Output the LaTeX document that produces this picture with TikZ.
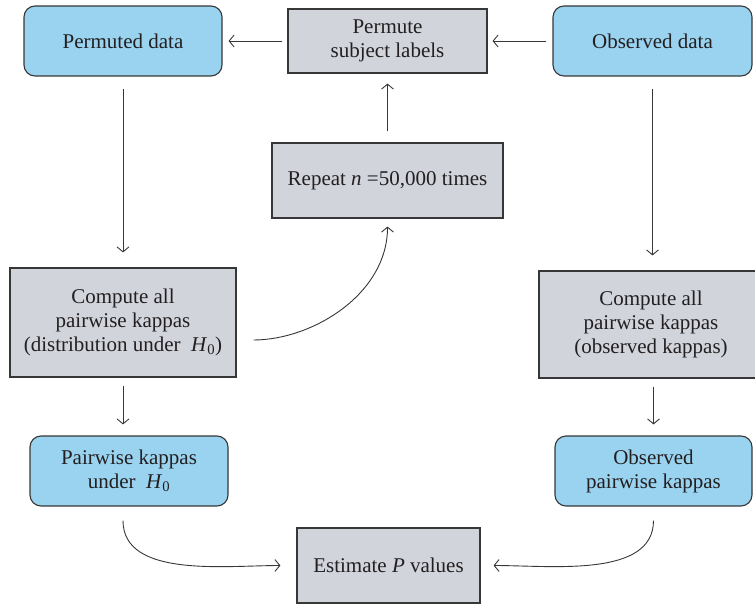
\documentclass[tikz,border=0pt]{standalone}
\usepackage{fontspec}
\setmainfont{Liberation Serif}
\usetikzlibrary{arrows.meta}
\definecolor{boxblue}{RGB}{154,211,240}
\definecolor{boxgray}{RGB}{209,212,219}
\definecolor{edge}{RGB}{55,55,55}
\definecolor{ink}{RGB}{35,31,32}
\tikzset{
  base/.style={draw=edge, line width=1.1pt, align=center, text=ink, inner sep=0pt,
    font=\fontsize{21}{24}\selectfont},
  bluebox/.style={base, fill=boxblue, rounded corners=11pt},
  graybox/.style={base, fill=boxgray},
  conn/.style={draw=edge, line width=0.9pt, -{Straight Barb[length=5pt,width=12pt]}}
}
\begin{document}
\begin{tikzpicture}[x=1pt,y=-1pt]
\useasboundingbox (0,0) rectangle (755,607);
\node[bluebox, minimum width=198pt, minimum height=70pt] (pd) at (123,41) {Permuted data};
\node[graybox, minimum width=199pt, minimum height=64pt] (psl) at (387.5,41) {Permute\\subject labels};
\node[bluebox, minimum width=199pt, minimum height=70pt] (od) at (652.5,41) {Observed data};
\node[graybox, minimum width=231pt, minimum height=75pt] (rep) at (387.5,180.5) {Repeat \textit{n} =50,000 times};
\node[graybox, minimum width=226pt, minimum height=109pt] (cl) at (123,322.5) {Compute all\\pairwise kappas\\(distribution under\ \ \textit{H}\textsubscript{0})};
\node[graybox, minimum width=224pt, minimum height=107pt] (cr) at (651,324.5) {Compute all\\pairwise kappas\\(observed kappas)};
\node[bluebox, minimum width=198pt, minimum height=70pt] (pk) at (129,471) {Pairwise kappas\\under\ \ \textit{H}\textsubscript{0}};
\node[bluebox, minimum width=197pt, minimum height=70pt] (opk) at (653.5,471) {Observed\\pairwise kappas};
\node[graybox, minimum width=183pt, minimum height=75pt] (est) at (388.5,565.5) {Estimate \textit{P} values};

\draw[conn, shorten <=6pt, shorten >=5pt] (od.west) -- (psl.east);
\draw[conn, shorten <=5pt, shorten >=6pt] (psl.west) -- (pd.east);
\draw[conn, shorten <=12pt, shorten >=15pt] (pd.south) -- (cl.north);
\draw[conn, shorten <=12pt, shorten >=15pt] (od.south) -- (od.south |- cr.north);
\draw[conn, shorten <=11pt, shorten >=10pt] (rep.north) -- (psl.south);
\draw[conn, shorten <=17pt, shorten >=8pt] ([yshift=-17.5pt]cl.east) to[out=0,in=-90] (rep.south);
\draw[conn, shorten <=8pt, shorten >=11pt] (cl.south) -- (cl.south |- pk.north);
\draw[conn, shorten <=8pt, shorten >=11pt] (cr.south -| opk.north) -- (opk.north);
\draw[conn, shorten <=14pt, shorten >=16pt] ([xshift=-6pt]pk.south) to[out=-90,in=180] (est.west);
\draw[conn, shorten <=14pt, shorten >=13pt] (opk.south) to[out=-90,in=0] (est.east);
\end{tikzpicture}
\end{document}
